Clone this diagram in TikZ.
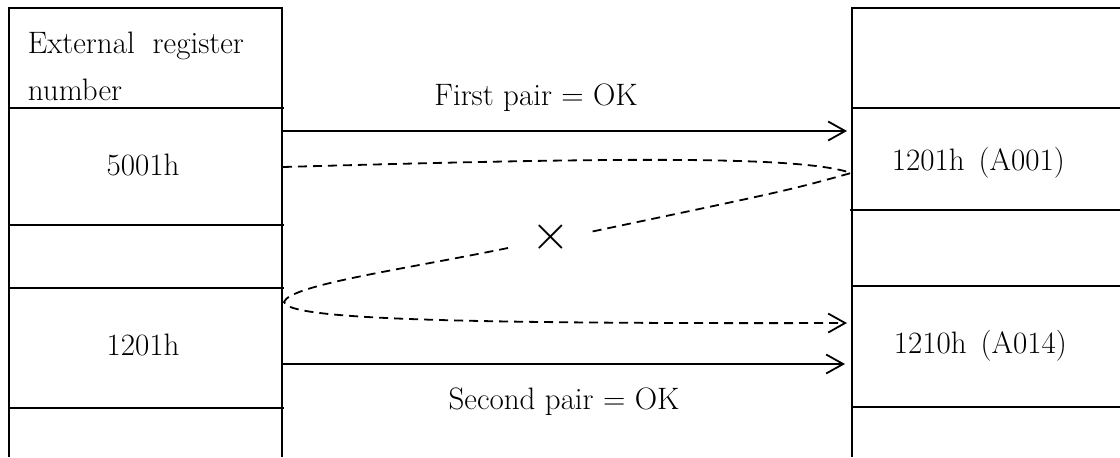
\documentclass[tikz,border=0pt]{standalone}
\usetikzlibrary{arrows.meta}
\begin{document}
\begin{tikzpicture}[x=0.5pt,y=-0.5pt,
  line width=0.9pt,
  txt/.style={inner sep=0pt,font=\fontsize{15.5}{18}\selectfont},
  conn/.style={-{Straight Barb[length=8.5pt,width=9.5pt,line width=0.9pt]}},
  dashconn/.style={dash pattern=on 4.5pt off 3pt},
  cross/.style={inner sep=0pt,font=\fontsize{27}{27}\selectfont}]
\useasboundingbox (0,0) rectangle (1120,457);
% left column
\draw (9,457) -- (9,8) -- (282,8) -- (282,457);
\draw (9,108) -- (284,108);
\draw (9,225) -- (284,225);
\draw (9,288) -- (284,288);
\draw (9,408) -- (284,408);
% right column
\draw (1125,8) -- (852,8) -- (852,457);
\draw (852,108) -- (1125,108);
\draw (850,210) -- (1125,210);
\draw (852,286) -- (1125,286);
\draw (852,407) -- (1125,407);
% texts
\node[txt,anchor=base west] (hdr1) at (27,53) {External\hspace{9pt}register};
\node[txt,anchor=base west] (hdr2) at (27,100) {number};
\node[txt,anchor=base] (l1) at (143,175) {5001h};
\node[txt,anchor=base] (l2) at (143,355) {1201h};
\node[txt,anchor=base west] (r1) at (891,170) {1201h\hspace{7pt}(A001)};
\node[txt,anchor=base west] (r2) at (893,353) {1210h\hspace{7pt}(A014)};
\node[txt,anchor=base] (lab1) at (536,105) {First pair = OK};
\node[txt,anchor=base] (lab2) at (564,409) {Second pair = OK};
\node[cross] (x) at (551,237) {$\times$};
% connectors
\coordinate (a1s) at (283,131);
\coordinate (a1e) at (847,131);
\coordinate (a2s) at (283,364);
\coordinate (a2e) at (845,364);
\coordinate (d1s) at (283,167);
\coordinate (dtip) at (851,173);
\coordinate (dx1) at (590,232);
\coordinate (dx2) at (508,248);
\coordinate (dl) at (284,302);
\coordinate (d2e) at (847,323);
\draw[conn] (a1s) -- (a1e);
\draw[conn] (a2s) -- (a2e);
\draw[dashconn] (d1s) .. controls (600,158) and (800,155) .. (dtip)
  .. controls (790,190) .. (dx1);
\draw[dashconn,conn] (dx2) .. controls (400,270) and (290,285) .. (dl)
  .. controls (288,318) and (420,324) .. (d2e);
\end{tikzpicture}
\end{document}
